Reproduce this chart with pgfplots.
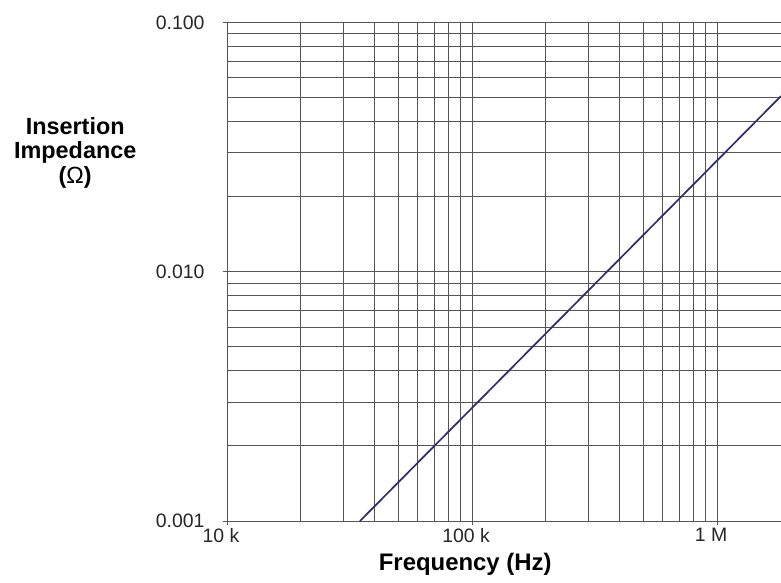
\documentclass[border=0pt]{standalone}
\usepackage{fontspec}
\setmainfont{Liberation Sans}
\usepackage{pgfplots}
\pgfplotsset{compat=1.18}
\definecolor{gridc}{RGB}{85,85,85}
\definecolor{linec}{RGB}{45,45,110}
\begin{document}
\begin{tikzpicture}
\begin{axis}[
  name=ax,
  scale only axis,
  width=554bp, height=498.5bp,
  xmode=log, ymode=log,
  xmin=1e4, xmax=1.825e6,
  ymin=0.001, ymax=0.1,
  axis x line*=bottom, axis y line*=left,
  axis line style={gridc, line width=1bp},
  grid=both,
  major grid style={gridc, line width=1bp},
  minor grid style={gridc, line width=1bp},
  xtick={1e4,1e5,1e6},
  xticklabels={10 k,100 k,1 M},
  ytick={0.001,0.01,0.1},
  yticklabels={0.001,0.010,0.100},
  tick align=outside,
  major tick length=4bp, minor tick length=0bp,
  tick style={gridc, line width=1bp},
  ticklabel style={font=\fontsize{19.5}{21}\selectfont, text=black!85},
  yticklabel style={xshift=-15bp},
  xticklabel style={xshift=-6bp},
  xlabel={Frequency (Hz)},
  xlabel style={at={(rel axis cs:0.43,0)}, anchor=base, yshift=-49bp,
    font=\fontsize{24}{25}\selectfont\bfseries},
  ylabel={Insertion\\Impedance\\({\mdseries Ω})},
  ylabel style={at={(rel axis cs:-0.274,0.81)}, rotate=-90, anchor=north,
    inner sep=0pt, align=center, font=\fontsize{23.5}{24.5}\selectfont\bfseries},
]
\addplot[linec, line width=1.7bp] coordinates {(34900,0.001) (1825000,0.0507)};
\end{axis}
\path (ax.south west) ++(-227bp,-62bp) coordinate (bbA);
\path (ax.north east) ++(0bp,22.5bp) coordinate (bbB);
\pgfresetboundingbox
\path[use as bounding box] (bbA) rectangle (bbB);
\end{tikzpicture}
\end{document}
